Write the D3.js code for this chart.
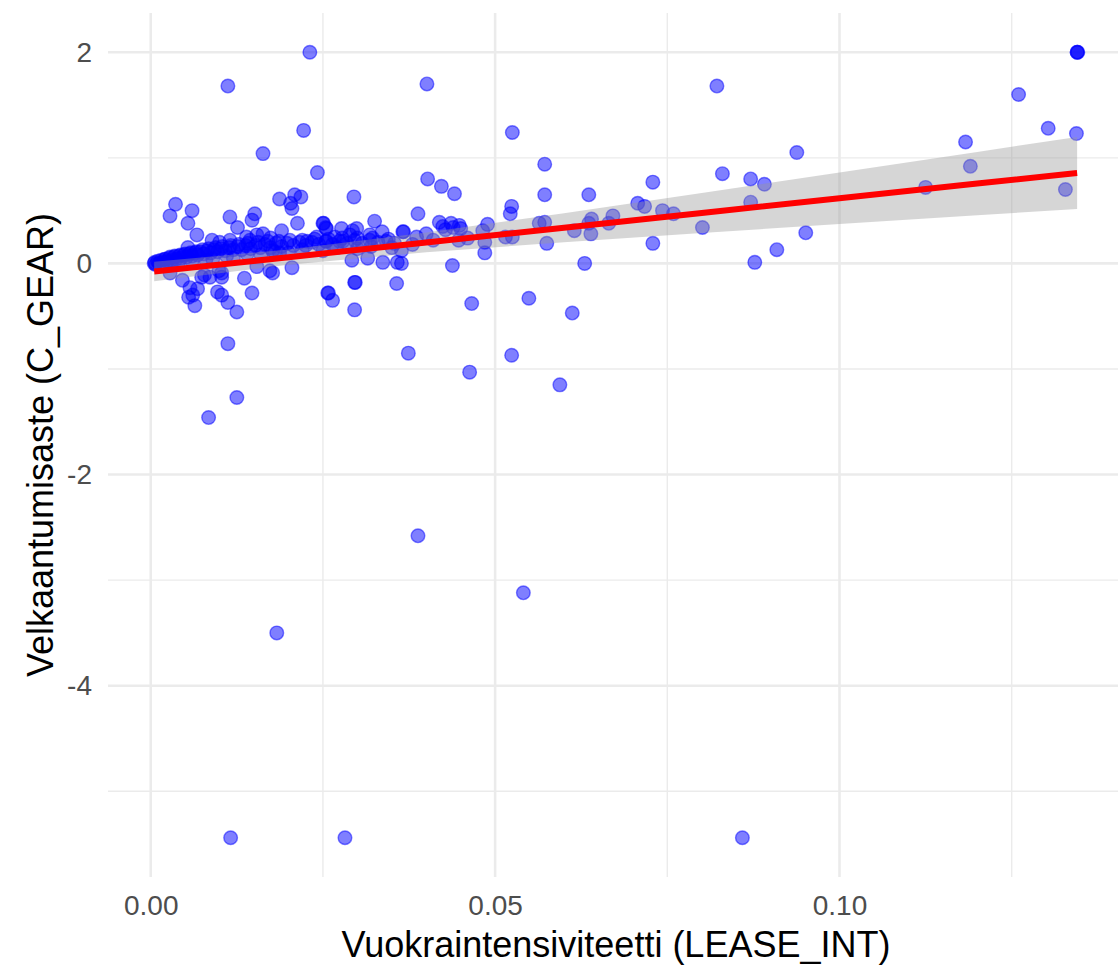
<!DOCTYPE html>
<html>
<head>
<meta charset="utf-8">
<script src="https://cdn.jsdelivr.net/npm/d3@7/dist/d3.min.js"></script>
<style>
  body { margin: 0; background: #fff; }
  text { font-family: "Liberation Sans", Arial, Helvetica, sans-serif; }
</style>
</head>
<body>
<svg id="chart" width="1118" height="971"></svg>
<script>
// firms: [LEASE_INT, C_GEAR]
const firms = [
  // outliers / scattered
  [0.0231, 2.00], [0.1345, 2.00], [0.1345, 2.00], [0.1346, 2.00],
  [0.0112, 1.68], [0.0401, 1.70], [0.0822, 1.68], [0.1260, 1.60],
  [0.0222, 1.26], [0.0525, 1.24], [0.1303, 1.28], [0.1344, 1.23],
  [0.1183, 1.15], [0.0163, 1.04], [0.0938, 1.05], [0.0572, 0.94],
  [0.1190, 0.92], [0.0242, 0.86], [0.0830, 0.85], [0.0402, 0.80],
  [0.0422, 0.73], [0.0441, 0.66], [0.0729, 0.77], [0.0871, 0.80],
  [0.0891, 0.75], [0.1125, 0.72], [0.1328, 0.70], [0.0295, 0.63],
  [0.0187, 0.61], [0.0203, 0.57], [0.0209, 0.65], [0.0218, 0.63],
  [0.0205, 0.52], [0.0213, 0.38], [0.0572, 0.65], [0.0636, 0.65],
  [0.0036, 0.56], [0.0028, 0.45], [0.0060, 0.50], [0.0115, 0.44],
  [0.0388, 0.47], [0.0707, 0.57], [0.0717, 0.54], [0.0524, 0.54],
  [0.0522, 0.47], [0.0671, 0.45], [0.0871, 0.58], [0.0759, 0.47],
  [0.0743, 0.50], [0.0151, 0.47], [0.0147, 0.41], [0.0054, 0.38],
  [0.0067, 0.27], [0.0126, 0.34], [0.0190, 0.31], [0.0250, 0.38],
  [0.0251, 0.38], [0.0254, 0.34], [0.0255, 0.33], [0.0325, 0.40],
  [0.0293, 0.31], [0.0448, 0.36], [0.0419, 0.39], [0.0424, 0.35],
  [0.0489, 0.37], [0.0482, 0.31], [0.0525, 0.25], [0.0572, 0.39],
  [0.0575, 0.19], [0.0640, 0.42], [0.0636, 0.38], [0.0639, 0.28],
  [0.0615, 0.31], [0.0665, 0.38], [0.0801, 0.34], [0.0729, 0.19],
  [0.0951, 0.29], [0.0909, 0.13], [0.0877, 0.01], [0.0630, 0.00],
  [0.0485, 0.10], [0.0485, 0.20], [0.0438, -0.02], [0.0337, 0.01],
  [0.0358, 0.01], [0.0315, 0.05], [0.0292, 0.03], [0.0357, -0.19],
  [0.0296, -0.18], [0.0297, -0.18], [0.0257, -0.28], [0.0258, -0.28],
  [0.0264, -0.35], [0.0296, -0.44], [0.0466, -0.38], [0.0549, -0.33],
  [0.0612, -0.47], [0.0374, -0.85], [0.0524, -0.87], [0.0463, -1.03],
  [0.0594, -1.15], [0.0112, -0.76], [0.0084, -1.46], [0.0125, -1.27],
  [0.0388, -2.58], [0.0541, -3.12], [0.0183, -3.50], [0.0116, -5.44],
  [0.0282, -5.44], [0.0859, -5.44],
  // around the line, near origin
  [0.0054, 0.15], [0.0089, 0.22], [0.0100, 0.20], [0.0115, 0.22],
  [0.0139, 0.25], [0.0144, 0.22], [0.0154, 0.27], [0.0163, 0.28],
  [0.0174, 0.24], [0.0227, 0.21], [0.0241, 0.25], [0.0255, 0.21],
  [0.0267, 0.25], [0.0279, 0.21], [0.0277, 0.33], [0.0299, 0.33],
  [0.0289, 0.27], [0.0336, 0.30], [0.0318, 0.27], [0.0366, 0.30],
  [0.0367, 0.30], [0.0386, 0.25], [0.0364, 0.12], [0.0436, 0.38],
  [0.0439, 0.34], [0.0428, 0.32], [0.0450, 0.33], [0.0447, 0.22],
  [0.0515, 0.25], [0.0564, 0.38], [0.0364, 0.00], [0.0177, 0.12],
  [0.0187, 0.10],
  // below the line, near origin
  [0.0028, -0.09], [0.0046, -0.16], [0.0057, -0.23], [0.0068, -0.24],
  [0.0061, -0.30], [0.0064, -0.40], [0.0055, -0.32], [0.0078, -0.11],
  [0.0074, -0.13], [0.0103, -0.09], [0.0099, -0.07], [0.0103, -0.13],
  [0.0086, -0.13], [0.0097, -0.27], [0.0103, -0.30], [0.0112, -0.37],
  [0.0125, -0.46], [0.0136, -0.14], [0.0147, -0.28], [0.0154, -0.03],
  [0.0173, -0.07], [0.0177, -0.09], [0.0205, -0.04],
  // dense band
  [0.0005, 0.00], [0.0006, 0.01], [0.0007, -0.01], [0.0010, 0.02],
  [0.0012, 0.00], [0.0015, 0.03], [0.0018, 0.01], [0.0021, 0.04],
  [0.0024, 0.02], [0.0027, 0.05], [0.0030, 0.03], [0.0034, 0.06],
  [0.0037, 0.04], [0.0041, 0.07], [0.0044, 0.05], [0.0048, 0.08],
  [0.0052, 0.06], [0.0056, 0.09], [0.0060, 0.07], [0.0064, 0.10],
  [0.0068, 0.08], [0.0072, 0.11], [0.0077, 0.09], [0.0082, 0.12],
  [0.0087, 0.10], [0.0092, 0.13], [0.0097, 0.11], [0.0102, 0.14],
  [0.0108, 0.12], [0.0114, 0.15], [0.0120, 0.13], [0.0126, 0.16],
  [0.0132, 0.13], [0.0138, 0.17], [0.0145, 0.14], [0.0152, 0.17],
  [0.0159, 0.15], [0.0166, 0.18], [0.0174, 0.15], [0.0182, 0.19],
  [0.0190, 0.16], [0.0198, 0.19], [0.0207, 0.17], [0.0216, 0.20],
  [0.0225, 0.17], [0.0234, 0.20], [0.0244, 0.18], [0.0254, 0.21],
  [0.0264, 0.18], [0.0274, 0.21], [0.0285, 0.19], [0.0296, 0.22],
  [0.0307, 0.19], [0.0318, 0.22], [0.0330, 0.20], [0.0342, 0.21],
  [0.0354, 0.19], [0.0040, 0.00], [0.0080, 0.03], [0.0120, 0.05],
  [0.0160, 0.08], [0.0200, 0.10], [0.0250, 0.12], [0.0300, 0.14],
  // dense band, upper edge
  [0.0020, 0.04], [0.0028, 0.06], [0.0035, 0.07], [0.0043, 0.08],
  [0.0050, 0.09], [0.0058, 0.10], [0.0066, 0.11], [0.0075, 0.13],
  [0.0084, 0.14], [0.0094, 0.15], [0.0104, 0.16], [0.0116, 0.17],
  [0.0128, 0.18], [0.0141, 0.19], [0.0156, 0.20], [0.0170, 0.21],
  [0.0186, 0.21], [0.0202, 0.22], [0.0220, 0.22], [0.0238, 0.23],
  [0.0258, 0.23], [0.0278, 0.24], [0.0300, 0.24], [0.0322, 0.24],
  [0.0345, 0.23],
  // dense band, lower edge
  [0.0030, 0.00], [0.0060, 0.02], [0.0090, 0.04], [0.0110, 0.07],
  [0.0140, 0.09], [0.0180, 0.11], [0.0220, 0.13], [0.0270, 0.15],
  [0.0320, 0.16], [0.0350, 0.15], [0.0380, 0.18], [0.0410, 0.22],
  [0.0460, 0.24], [0.0400, 0.28]
];

// lm fit: line + 95% band
const fitX     = [0.0005, 0.020, 0.040, 0.060, 0.080, 0.100, 0.120, 0.1345];
const fitY     = [-0.077, 0.059, 0.199, 0.338, 0.478, 0.617, 0.756, 0.857];
const fitLower = [-0.169, -0.013, 0.106, 0.201, 0.289, 0.373, 0.456, 0.516];
const fitUpper = [0.016, 0.131, 0.292, 0.475, 0.667, 0.861, 1.056, 1.198];

const xTicks = [0, 0.05, 0.10];
const xTickLabels = ["0.00", "0.05", "0.10"];
const xMinor = [0.025, 0.075, 0.125];
const yTicks = [-4, -2, 0, 2];
const yTickLabels = ["-4", "-2", "0", "2"];
const yMinor = [-5, -3, -1, 1];

const svg = d3.select("#chart");

// ggplot-style 5% expansion
const xExt = d3.extent(firms, d => d[0]);
const yExt = d3.extent(firms, d => d[1]);
const xPad = (xExt[1] - xExt[0]) * 0.05;
const yPad = (yExt[1] - yExt[0]) * 0.05;

const x = d3.scaleLinear().domain([xExt[0] - xPad, xExt[1] + xPad]).range([108, 1124]);
const y = d3.scaleLinear().domain([yExt[0] - yPad, yExt[1] + yPad]).range([877, 13]);

const [px0, px1] = x.range();
const [py1, py0] = y.range();

// grid
const grid = svg.append("g");
grid.selectAll(".xminor").data(xMinor).join("line")
  .attr("x1", d => x(d)).attr("x2", d => x(d))
  .attr("y1", py0).attr("y2", py1)
  .attr("stroke", "#ebebeb").attr("stroke-width", 1.4);
grid.selectAll(".yminor").data(yMinor).join("line")
  .attr("y1", d => y(d)).attr("y2", d => y(d))
  .attr("x1", px0).attr("x2", px1)
  .attr("stroke", "#ebebeb").attr("stroke-width", 1.4);
grid.selectAll(".xmajor").data(xTicks).join("line")
  .attr("x1", d => x(d)).attr("x2", d => x(d))
  .attr("y1", py0).attr("y2", py1)
  .attr("stroke", "#ebebeb").attr("stroke-width", 2.6);
grid.selectAll(".ymajor").data(yTicks).join("line")
  .attr("y1", d => y(d)).attr("y2", d => y(d))
  .attr("x1", px0).attr("x2", px1)
  .attr("stroke", "#ebebeb").attr("stroke-width", 2.6);

// points
svg.append("g").selectAll("circle").data(firms).join("circle")
  .attr("cx", d => x(d[0]))
  .attr("cy", d => y(d[1]))
  .attr("r", 6.8)
  .attr("fill", "blue").attr("fill-opacity", 0.5)
  .attr("stroke", "blue").attr("stroke-opacity", 0.5).attr("stroke-width", 1.4);

// smooth: band then line
const band = d3.area()
  .x((d, i) => x(fitX[i]))
  .y0((d, i) => y(fitLower[i]))
  .y1((d, i) => y(fitUpper[i]));
svg.append("path").datum(fitX)
  .attr("d", band)
  .attr("fill", "#999999").attr("fill-opacity", 0.4);

const fitLine = d3.line()
  .x((d, i) => x(fitX[i]))
  .y((d, i) => y(fitY[i]));
svg.append("path").datum(fitX)
  .attr("d", fitLine)
  .attr("fill", "none").attr("stroke", "#ff0000").attr("stroke-width", 6);

// axes (labels only, theme_minimal)
const xAxis = svg.append("g")
  .attr("transform", `translate(0,${py1})`)
  .call(d3.axisBottom(x).tickValues(xTicks).tickSize(0).tickPadding(18)
    .tickFormat((d, i) => xTickLabels[i]));
const yAxis = svg.append("g")
  .attr("transform", `translate(${px0},0)`)
  .call(d3.axisLeft(y).tickValues(yTicks).tickSize(0).tickPadding(16)
    .tickFormat((d, i) => yTickLabels[i]));
[xAxis, yAxis].forEach(a => {
  a.select(".domain").remove();
  a.selectAll("text")
    .attr("font-family", "'Liberation Sans', Arial, sans-serif")
    .attr("font-size", 28).attr("fill", "#4d4d4d");
});

svg.append("text")
  .attr("x", (px0 + px1) / 2).attr("y", 957)
  .attr("text-anchor", "middle")
  .attr("font-size", 36).attr("fill", "#000")
  .text("Vuokraintensiviteetti (LEASE_INT)");

svg.append("text")
  .attr("transform", `translate(53,${(py0 + py1) / 2}) rotate(-90)`)
  .attr("text-anchor", "middle")
  .attr("font-size", 36).attr("fill", "#000")
  .text("Velkaantumisaste (C_GEAR)");
</script>
</body>
</html>
